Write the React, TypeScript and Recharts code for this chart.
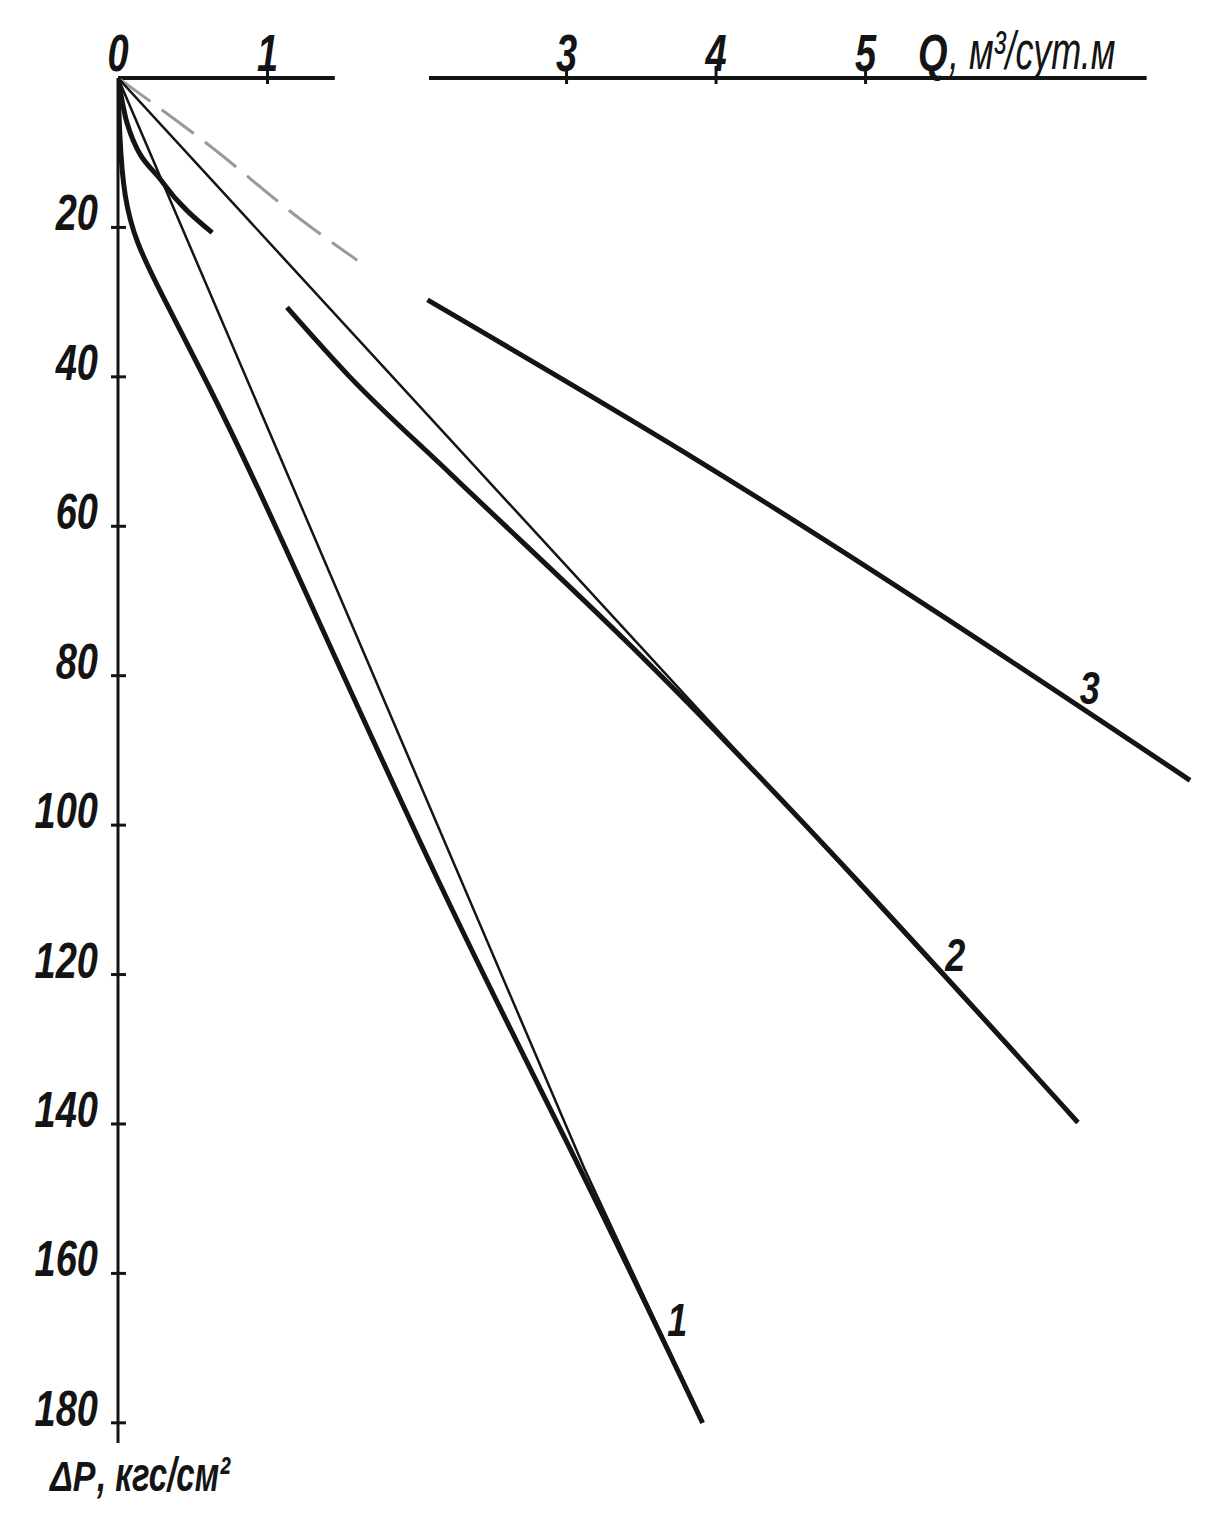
import React from 'react';
import { LineChart, Line, XAxis, YAxis, ReferenceLine, ReferenceDot } from 'recharts';

// Flow rate Q (m³/day·m) ticks and pressure drop ΔP (kgf/cm²) ticks
const qTicks = [0, 1, 3, 4, 5];
const dpTicks = [20, 40, 60, 80, 100, 120, 140, 160, 180];

// Curve 1 (thick, bent near the origin) and its thin straight companion
const curve1Thick = [
  { q: 0, dp: 0 }, { q: 0.01, dp: 8 }, { q: 0.04, dp: 16 }, { q: 0.12, dp: 22 },
  { q: 0.28, dp: 28.5 }, { q: 0.55, dp: 39 }, { q: 0.88, dp: 52 }, { q: 2.18, dp: 110 },
  { q: 3.1, dp: 146 }, { q: 3.91, dp: 180 },
];
const curve1Thin = [{ q: 0, dp: 0 }, { q: 3.12, dp: 146 }, { q: 3.91, dp: 180 }];

// Curve 2
const curve2Thick = [
  { q: 0, dp: 0 }, { q: 0.06, dp: 6 }, { q: 0.3, dp: 14 }, { q: 0.63, dp: 20.7 },
  { q: 0.9, dp: null }, { q: 1.13, dp: 30.7 }, { q: 1.55, dp: 40 }, { q: 2.22, dp: 52.9 },
  { q: 3.44, dp: 76.2 }, { q: 6.42, dp: 139.8 },
];
const curve2Thin = [{ q: 0, dp: 0 }, { q: 6.42, dp: 139.8 }];

// Curve 3 (faded start near origin, then solid)
const curve3Faded = [{ q: 0, dp: 0 }, { q: 0.59, dp: 8.7 }, { q: 1.24, dp: 19.2 }, { q: 1.6, dp: 24.4 }];
const curve3Main = [{ q: 2.07, dp: 29.7 }, { q: 3.87, dp: 51.1 }, { q: 7.17, dp: 94.0 }];

// Curve number labels
const curveLabels = [
  { text: '1', q: 3.74, dp: 166.3 },
  { text: '2', q: 5.6, dp: 117.4 },
  { text: '3', q: 6.5, dp: 81.7 },
];

// Drawn pieces of the Q axis line (the scan has a gap)
const qAxisPieces = [[0, 1.45], [2.08, 6.88]];

const INK = '#141414';
const FONT = '"Liberation Sans", Arial, sans-serif';

const DpTick = (props: any) => {
  const { x, y, payload } = props;
  return (
    <g>
      <line x1={x - 7} x2={x + 8} y1={y} y2={y} stroke={INK} strokeWidth={3} />
      <text
        transform={`translate(${x - 20},${y + 3}) scale(1,1.3)`}
        textAnchor="end"
        fontSize={38}
        fontStyle="italic"
        fontWeight="bold"
        fontFamily={FONT}
        fill={INK}
      >
        {payload.value}
      </text>
    </g>
  );
};

const QTick = (props: any) => {
  const { x, y, payload } = props;
  return (
    <g>
      {payload.value !== 0 && (
        <line x1={x} x2={x} y1={y - 12} y2={y + 6} stroke={INK} strokeWidth={3} />
      )}
      <text
        transform={`translate(${x},${y - 7}) scale(1,1.35)`}
        textAnchor="middle"
        fontSize={38}
        fontStyle="italic"
        fontWeight="bold"
        fontFamily={FONT}
        fill={INK}
      >
        {payload.value}
      </text>
    </g>
  );
};

const CurveLabel = (props: any) => {
  const { viewBox, text } = props;
  const { x, y } = viewBox;
  return (
    <text
      transform={`translate(${x},${y + 16}) scale(1,1.3)`}
      textAnchor="middle"
      fontSize={36}
      fontStyle="italic"
      fontWeight="bold"
      fontFamily={FONT}
      fill={INK}
    >
      {text}
    </text>
  );
};

const QUnitLabel = (props: any) => {
  const { x, y } = props.viewBox;
  return (
    <g>
      <text
        transform={`translate(${x},${y - 7}) scale(1,1.35)`}
        fontSize={38}
        fontStyle="italic"
        fontWeight="bold"
        fontFamily={FONT}
        fill={INK}
      >
        Q
      </text>
      <text
        transform={`translate(${x + 31},${y - 9}) scale(1,1.5)`}
        fontSize={36}
        fontStyle="italic"
        fontFamily={FONT}
        fill={INK}
      >
        , м³/сут.м
      </text>
    </g>
  );
};

const DpUnitLabel = (props: any) => {
  const { x, y } = props.viewBox;
  return (
    <g>
      <text
        transform={`translate(${x - 68},${y + 48}) scale(1,1.25)`}
        fontSize={34}
        fontStyle="italic"
        fontWeight="bold"
        fontFamily={FONT}
        fill={INK}
      >
        ΔP
      </text>
      <text
        transform={`translate(${x - 21},${y + 48}) scale(1,1.45)`}
        fontSize={33}
        fontStyle="italic"
        fontWeight="bold"
        fontFamily={FONT}
        fill={INK}
      >
        , кгс/см²
      </text>
    </g>
  );
};

export default function App() {
  return (
    <div style={{ width: 1204, height: 1500, background: '#fff' }}>
      <LineChart width={1204} height={1500} margin={{ top: 30, right: 10, bottom: 65, left: 10 }}>
        <XAxis
          type="number"
          dataKey="q"
          orientation="top"
          domain={[0, 7.25]}
          ticks={qTicks}
          height={40}
          axisLine={false}
          tickLine={false}
          tickSize={0}
          tickMargin={0}
          tick={<QTick />}
          allowDataOverflow
        />
        <YAxis
          type="number"
          dataKey="dp"
          reversed
          domain={[0, 182.7]}
          ticks={dpTicks}
          width={100}
          axisLine={{ stroke: INK, strokeWidth: 3 }}
          tickLine={false}
          tickSize={0}
          tickMargin={0}
          tick={<DpTick />}
          allowDataOverflow
        />
        {qAxisPieces.map((p, i) => (
          <ReferenceLine
            key={i}
            segment={[{ x: p[0], y: 0 }, { x: p[1], y: 0 }]}
            stroke={INK}
            strokeWidth={4}
            ifOverflow="visible"
          />
        ))}
        <Line data={curve3Faded} dataKey="dp" type="monotone" stroke="#9a9a9a" strokeWidth={3} strokeDasharray="40 14" dot={false} isAnimationActive={false} />
        <Line data={curve3Main} dataKey="dp" type="monotone" stroke={INK} strokeWidth={5} dot={false} isAnimationActive={false} />
        <Line data={curve2Thin} dataKey="dp" type="linear" stroke={INK} strokeWidth={2.5} dot={false} isAnimationActive={false} />
        <Line data={curve2Thick} dataKey="dp" type="monotone" stroke={INK} strokeWidth={5} dot={false} isAnimationActive={false} />
        <Line data={curve1Thin} dataKey="dp" type="linear" stroke={INK} strokeWidth={2.5} dot={false} isAnimationActive={false} />
        <Line data={curve1Thick} dataKey="dp" type="basis" stroke={INK} strokeWidth={5} dot={false} isAnimationActive={false} />
        {curveLabels.map((c) => (
          <ReferenceDot
            key={c.text}
            x={c.q}
            y={c.dp}
            r={0}
            fill="none"
            stroke="none"
            ifOverflow="visible"
            label={<CurveLabel text={c.text} />}
          />
        ))}
        <ReferenceDot x={5.35} y={0} r={0} fill="none" stroke="none" ifOverflow="visible" label={<QUnitLabel />} />
        <ReferenceDot x={0} y={182.7} r={0} fill="none" stroke="none" ifOverflow="visible" label={<DpUnitLabel />} />
      </LineChart>
    </div>
  );
}
